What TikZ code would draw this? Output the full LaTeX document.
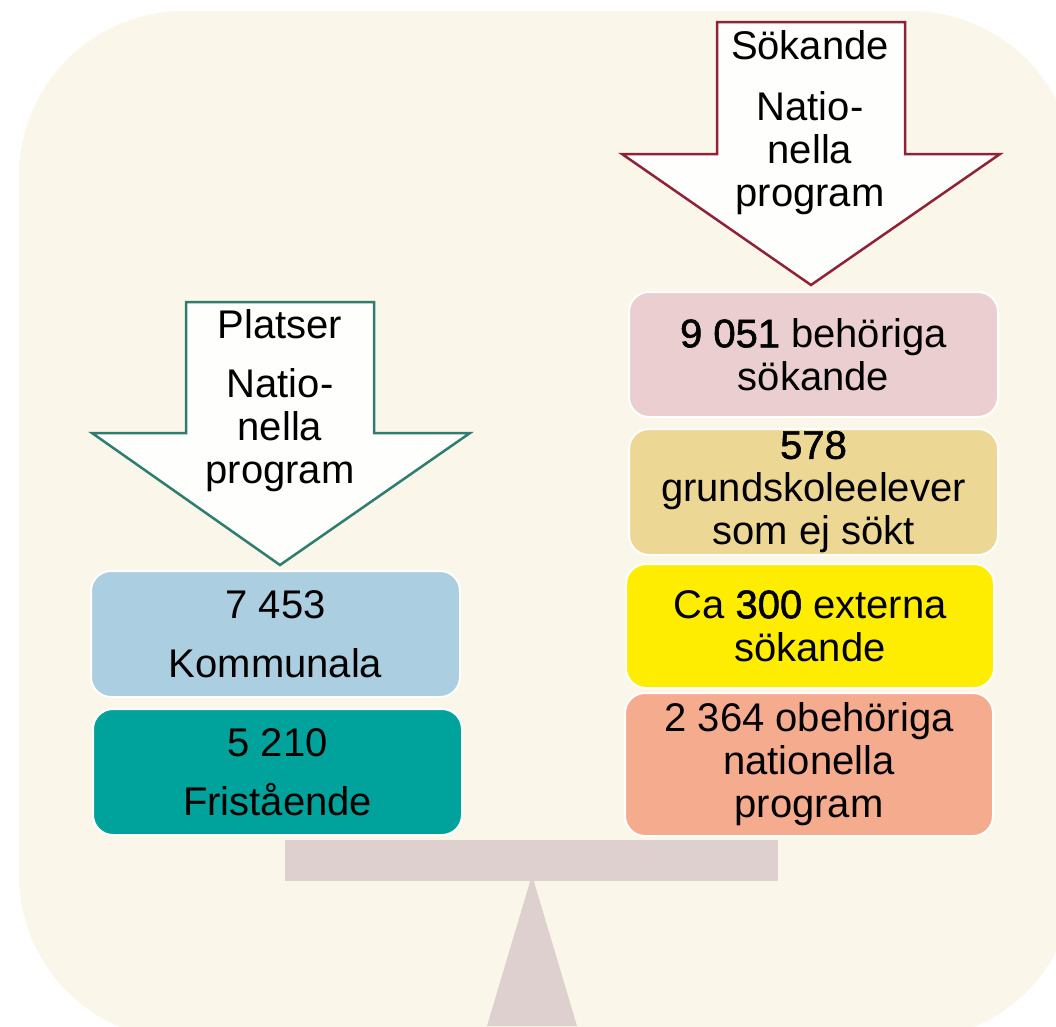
\documentclass[tikz,border=0pt]{standalone}
\usepackage{fontspec}
\setmainfont{Liberation Sans}
\definecolor{bgcream}{HTML}{FAF6EA}
\definecolor{tealline}{HTML}{2E7D6E}
\definecolor{crimsonline}{HTML}{8E2239}
\definecolor{arrowfill}{HTML}{FEFEFC}
\definecolor{pinkbox}{HTML}{EBCFD0}
\definecolor{tanbox}{HTML}{EDD794}
\definecolor{yellowbox}{HTML}{FFED00}
\definecolor{salmonbox}{HTML}{F5AC8E}
\definecolor{bluebox}{HTML}{ABCFE0}
\definecolor{tealbox}{HTML}{00A39B}
\definecolor{seesaw}{HTML}{DDD0CF}
\newcommand{\numb}[1]{{\addfontfeature{FakeBold=1.4}#1}}
\begin{document}
\begin{tikzpicture}[x=1pt,y=-1pt,
  txt/.style={align=center, inner sep=0pt, font=\fontsize{40}{43}\selectfont},
  box/.style={txt, draw=white, line width=2pt, rounded corners=20pt},
  bigarrow/.style={line width=2.5pt, fill=arrowfill, line join=miter}]
\useasboundingbox (0,0) rectangle (1056,1026);
\begin{scope}
  \clip (0,0) rectangle (1056,1026);
  \fill[bgcream, rounded corners=165pt] (19,11) rectangle (1075,1040);
\end{scope}
% seesaw
\fill[seesaw] (285,840) rectangle (778,881);
\fill[seesaw] (532,875) -- (577,1026) -- (487,1026) -- cycle;
% arrows
\draw[bigarrow, draw=tealline] (186,302) -- (374,302) -- (374,433) -- (470,433) -- (280,565) -- (92,433) -- (186,433) -- cycle;
\draw[bigarrow, draw=crimsonline] (717,22) -- (905,22) -- (905,154) -- (1000,154) -- (811,285) -- (622,154) -- (717,154) -- cycle;
\node[txt] (platser) at (280,401) {Platser\\[16pt]Natio-\\nella\\program};
\node[txt] (sokande) at (810,123) {Sökande\\[18pt]Natio-\\nella\\program};
% right boxes
\node[box, fill=pinkbox, minimum width=369pt, minimum height=125pt] (behoriga) at (813.5,354.5) {\numb{9 051} behöriga\\sökande};
\node[box, fill=tanbox, minimum width=369pt, minimum height=126pt] (grund) at (813.5,492) {\numb{578}\\grundskoleelever\\som ej sökt};
\node[box, fill=yellowbox, minimum width=368pt, minimum height=124pt] (externa) at (810,626) {Ca \numb{300} externa\\sökande};
\node[box, fill=salmonbox, minimum width=368pt, minimum height=143pt] (obehoriga) at (809,764.5) {2 364 obehöriga\\nationella\\program};
% left boxes
\node[box, fill=bluebox, minimum width=369pt, minimum height=126pt] (kommunala) at (275.5,634) {7 453\\[16pt]Kommunala};
\node[box, fill=tealbox, minimum width=369pt, minimum height=126pt] (fristaende) at (277.5,772) {5 210\\[16pt]Fristående};
\end{tikzpicture}
\end{document}
